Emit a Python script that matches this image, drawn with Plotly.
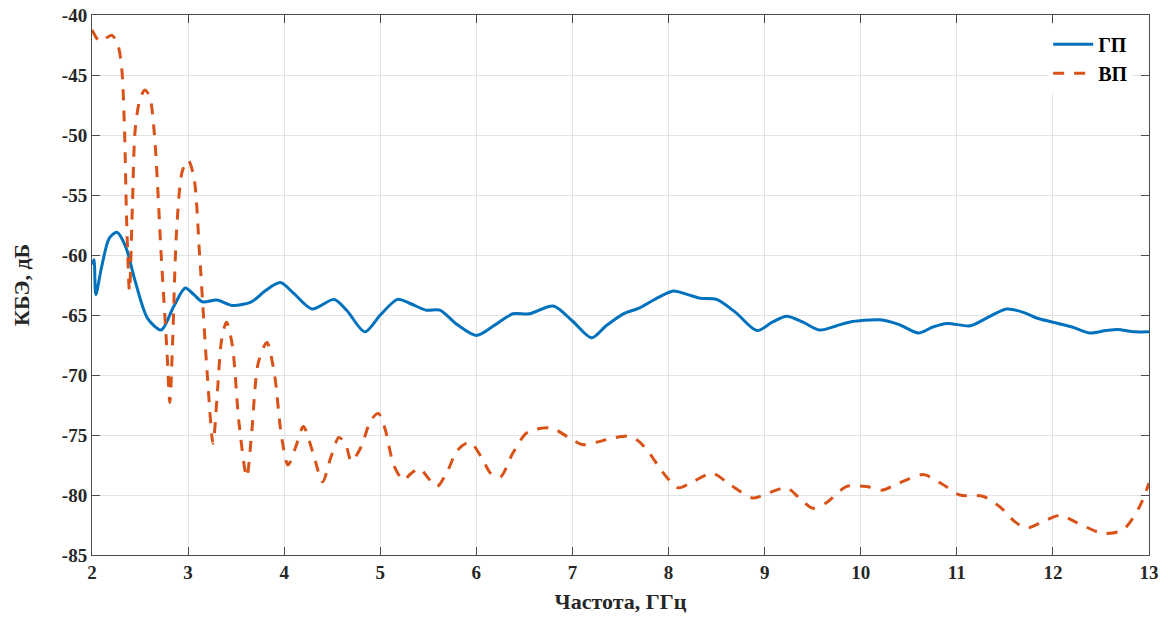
import plotly.graph_objects as go

# ГП (horizontal polarization)
gp_freq = [2.00, 2.02, 2.04, 2.10, 2.18, 2.26, 2.35, 2.45, 2.58, 2.72, 2.85, 2.97, 3.06, 3.15,
           3.30, 3.46, 3.66, 3.80, 3.96, 4.10, 4.29, 4.52, 4.65, 4.84, 5.00, 5.18, 5.30, 5.48,
           5.62, 5.80, 6.00, 6.18, 6.38, 6.55, 6.80, 7.00, 7.20, 7.35, 7.53, 7.70, 7.88, 8.05,
           8.20, 8.33, 8.50, 8.70, 8.92, 9.08, 9.23, 9.40, 9.57, 9.75, 9.88, 10.20, 10.40,
           10.60, 10.75, 10.90, 11.14, 11.30, 11.52, 11.70, 11.83, 12.00, 12.20, 12.38, 12.55,
           12.67, 12.85, 13.00]
gp_db = [-60.8, -60.4, -63.3, -61.0, -58.6, -58.1, -59.3, -62.2, -65.3, -66.25, -64.3, -62.75,
         -63.3, -63.9, -63.75, -64.2, -63.9, -63.0, -62.3, -63.2, -64.5, -63.7, -64.6, -66.4,
         -65.0, -63.7, -64.0, -64.6, -64.6, -65.8, -66.7, -65.9, -64.9, -64.9, -64.25, -65.5,
         -66.9, -65.9, -64.9, -64.4, -63.6, -63.0, -63.3, -63.6, -63.7, -64.8, -66.3, -65.6,
         -65.1, -65.6, -66.25, -65.9, -65.6, -65.4, -65.8, -66.5, -66.0, -65.7, -65.9, -65.3,
         -64.5, -64.8, -65.25, -65.6, -66.0, -66.5, -66.3, -66.2, -66.4, -66.4]

# ВП (vertical polarization)
vp_freq = [2.00, 2.08, 2.15, 2.21, 2.27, 2.31, 2.34, 2.36, 2.39, 2.42, 2.45, 2.50, 2.55, 2.60,
           2.65, 2.72, 2.78, 2.81, 2.84, 2.88, 2.94, 3.00, 3.06, 3.12, 3.20, 3.26, 3.30, 3.35,
           3.40, 3.46, 3.53, 3.61, 3.66, 3.73, 3.82, 3.90, 3.97, 4.04, 4.12, 4.20, 4.30, 4.40,
           4.48, 4.57, 4.64, 4.70, 4.80, 4.90, 4.98, 5.05, 5.14, 5.24, 5.32, 5.41, 5.50, 5.59,
           5.70, 5.80, 5.93, 6.05, 6.15, 6.25, 6.38, 6.53, 6.77, 6.97, 7.10, 7.25, 7.42, 7.60,
           7.70, 7.80, 7.93, 8.10, 8.25, 8.46, 8.65, 8.88, 9.05, 9.23, 9.38, 9.50, 9.65, 9.85,
           10.06, 10.22, 10.40, 10.65, 10.85, 11.03, 11.27, 11.45, 11.60, 11.73, 11.90, 12.07,
           12.25, 12.52, 12.73, 12.90, 13.00]
vp_db = [-41.25, -42.2, -41.9, -41.7, -42.5, -44.5, -50.0, -57.0, -63.0, -56.0, -49.5, -47.0,
         -46.25, -46.8, -50.0, -60.0, -68.0, -72.3, -67.0, -58.0, -53.0, -52.1, -53.5, -60.0,
         -70.0, -75.7, -72.0, -67.0, -65.6, -67.5, -74.0, -78.5, -75.0, -69.0, -67.3, -70.0,
         -75.0, -77.5, -76.0, -74.3, -76.5, -78.9, -77.0, -75.2, -75.8, -77.2, -76.0, -73.8,
         -73.2, -74.5, -77.5, -78.75, -78.2, -77.8, -78.6, -79.3, -78.0, -76.3, -75.6, -76.8,
         -78.2, -78.5, -76.5, -74.8, -74.4, -75.25, -75.8, -75.6, -75.25, -75.1, -75.6, -76.5,
         -78.0, -79.4, -78.9, -78.2, -79.2, -80.25, -79.8, -79.4, -80.4, -81.1, -80.6, -79.3,
         -79.3, -79.6, -79.0, -78.3, -79.1, -80.0, -80.1, -81.0, -82.2, -82.75, -82.2, -81.7,
         -82.3, -83.2, -82.9, -81.0, -79.0]

x_ticks = list(range(2, 14))
y_ticks = list(range(-85, -39, 5))

FONT = "Liberation Serif, Times New Roman, DejaVu Serif, serif"

fig = go.Figure()
fig.add_trace(go.Scatter(x=gp_freq, y=gp_db, mode="lines", name="<b>ГП</b>",
                         line=dict(color="#0072BD", width=3, shape="spline", smoothing=0.8)))
fig.add_trace(go.Scatter(x=vp_freq, y=vp_db, mode="lines", name="<b>ВП</b>",
                         line=dict(color="#D95319", width=3, dash="11px,10px",
                                   shape="spline", smoothing=0.8)))

axis_common = dict(showline=True, linecolor="#4d4d4d", linewidth=1, mirror="ticks",
                   ticks="inside", ticklen=8, tickcolor="#4d4d4d", showgrid=True,
                   gridcolor="#e3e3e3", gridwidth=1, zeroline=False, automargin=False,
                   tickfont=dict(family=FONT, size=19, color="#262626"))

fig.update_xaxes(range=[2, 13], tickvals=x_ticks, ticktext=[f"<b>{t}</b>" for t in x_ticks],
                 title=dict(text="<b>Частота, ГГц</b>", font=dict(family=FONT, size=22, color="#262626"),
                            standoff=11),
                 **axis_common)
fig.update_yaxes(range=[-85, -40], tickvals=y_ticks, ticktext=[f"<b>{t}</b>" for t in y_ticks],
                 title=dict(text="<b>КБЭ, дБ</b>", font=dict(family=FONT, size=22, color="#262626"),
                            standoff=26),
                 **axis_common)

fig.update_layout(width=1168, height=619, plot_bgcolor="white", paper_bgcolor="white",
                  margin=dict(l=92, r=19, t=15, b=64),
                  legend=dict(x=0.985, y=0.982, xanchor="right", yanchor="top",
                              bgcolor="white", borderwidth=0,
                              font=dict(family=FONT, size=20, color="#000000"),
                              itemwidth=40, tracegroupgap=0))

fig.write_html("out.html", config={"displayModeBar": False},
               post_script="document.body.style.margin='0';document.body.style.overflow='hidden';")
